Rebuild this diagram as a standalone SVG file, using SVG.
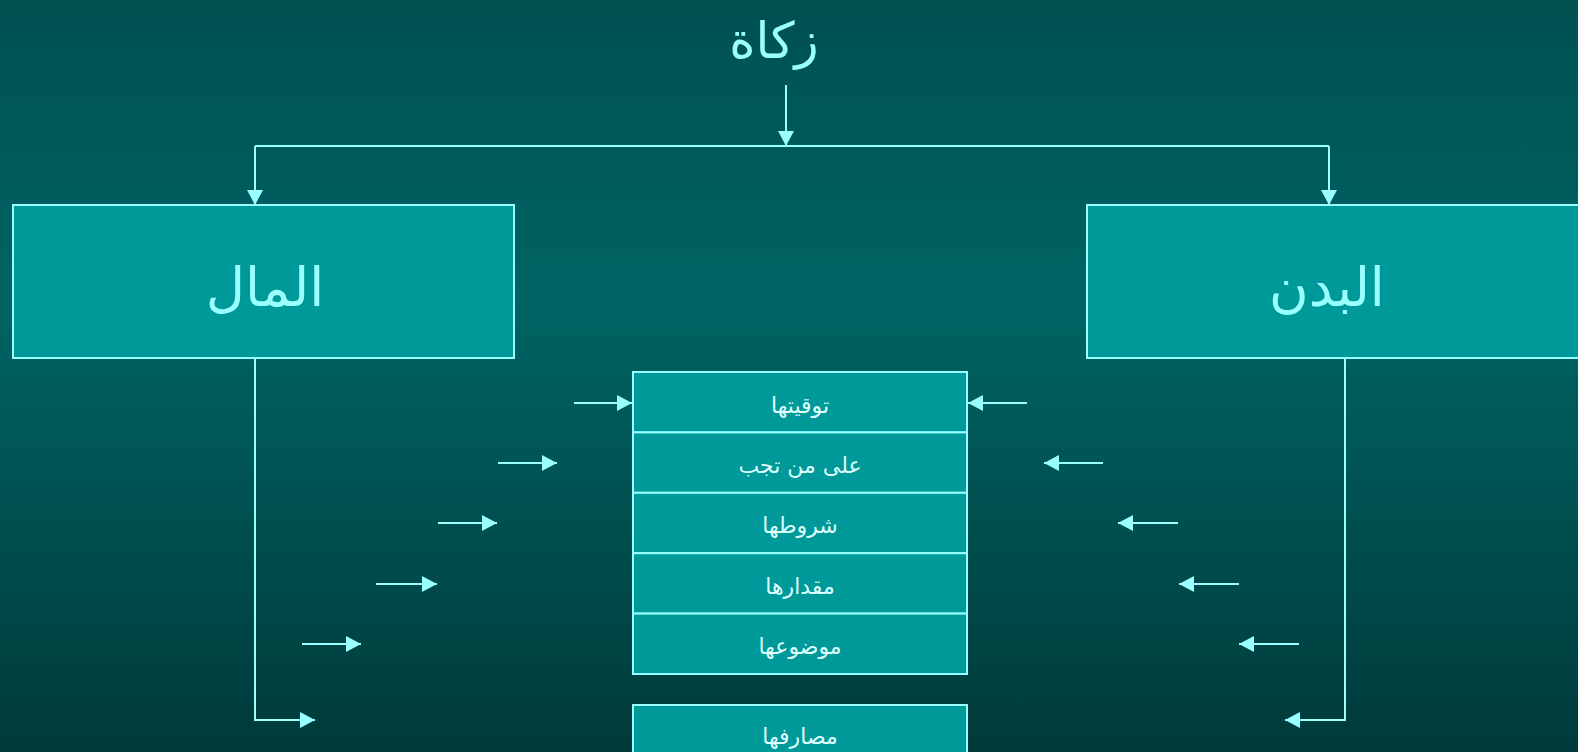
<svg xmlns="http://www.w3.org/2000/svg" width="1578" height="752" viewBox="0 0 1578 752">
<defs>
<linearGradient id="bg" x1="0" y1="0" x2="0" y2="1">
<stop offset="0" stop-color="#005050"/>
<stop offset="0.4" stop-color="#006464"/>
<stop offset="1" stop-color="#003a3a"/>
</linearGradient>
<marker id="ah" viewBox="0 0 15 16" refX="15" refY="8" markerWidth="15" markerHeight="16" markerUnits="userSpaceOnUse" orient="auto">
<path d="M0,0 L15,8 L0,16 Z" fill="#99ffff"/>
</marker>
<style>
.box{fill:#009999;stroke:#99ffff;stroke-width:2}
.ln{fill:none;stroke:#99ffff;stroke-width:2}
.ar{fill:none;stroke:#99ffff;stroke-width:2;marker-end:url(#ah)}
.big{font-family:"DejaVu Sans",sans-serif;fill:#99ffff;text-anchor:middle}
.sm{font-family:"DejaVu Sans",sans-serif;fill:#ddffff;font-size:22px;text-anchor:middle}
</style>
</defs>
<rect x="0" y="0" width="1578" height="752" fill="url(#bg)"/>
<g id="title"><text class="big" x="774" y="58" font-size="50">زكاة</text></g>
<g id="mal"><rect class="box" x="13" y="205" width="501" height="153"/><text class="big" x="265" y="306" font-size="54">المال</text></g>
<g id="badan"><rect class="box" x="1087" y="205" width="500" height="153"/><text class="big" x="1327" y="306" font-size="54">البدن</text></g>
<g id="table">
<rect class="box" x="633" y="372" width="334" height="60.4"/><text class="sm" x="800" y="413">توقيتها</text>
<rect class="box" x="633" y="432.4" width="334" height="60.4"/><text class="sm" x="800" y="473">على من تجب</text>
<rect class="box" x="633" y="492.8" width="334" height="60.4"/><text class="sm" x="800" y="533">شروطها</text>
<rect class="box" x="633" y="553.2" width="334" height="60.4"/><text class="sm" x="800" y="594">مقدارها</text>
<rect class="box" x="633" y="613.6" width="334" height="60.4"/><text class="sm" x="800" y="654">موضوعها</text>
</g>
<g id="masarif"><rect class="box" x="633" y="705" width="334" height="50"/><text class="sm" x="800" y="744">مصارفها</text></g>
<g id="connectors">
<path class="ar" d="M786,85 V146"/>
<path class="ln" d="M255,146 H1329"/>
<path class="ar" d="M255,146 V205"/>
<path class="ar" d="M1329,146 V205"/>
<path class="ar" d="M255,358 V720 H315"/>
<path class="ar" d="M1345,358 V720 H1285"/>
<path class="ar" d="M574,403 H632"/>
<path class="ar" d="M498,463 H557"/>
<path class="ar" d="M438,523 H497"/>
<path class="ar" d="M376,584 H437"/>
<path class="ar" d="M302,644 H361"/>
<path class="ar" d="M1027,403 H968"/>
<path class="ar" d="M1103,463 H1044"/>
<path class="ar" d="M1178,523 H1118"/>
<path class="ar" d="M1239,584 H1179"/>
<path class="ar" d="M1299,644 H1239"/>
</g>
</svg>
